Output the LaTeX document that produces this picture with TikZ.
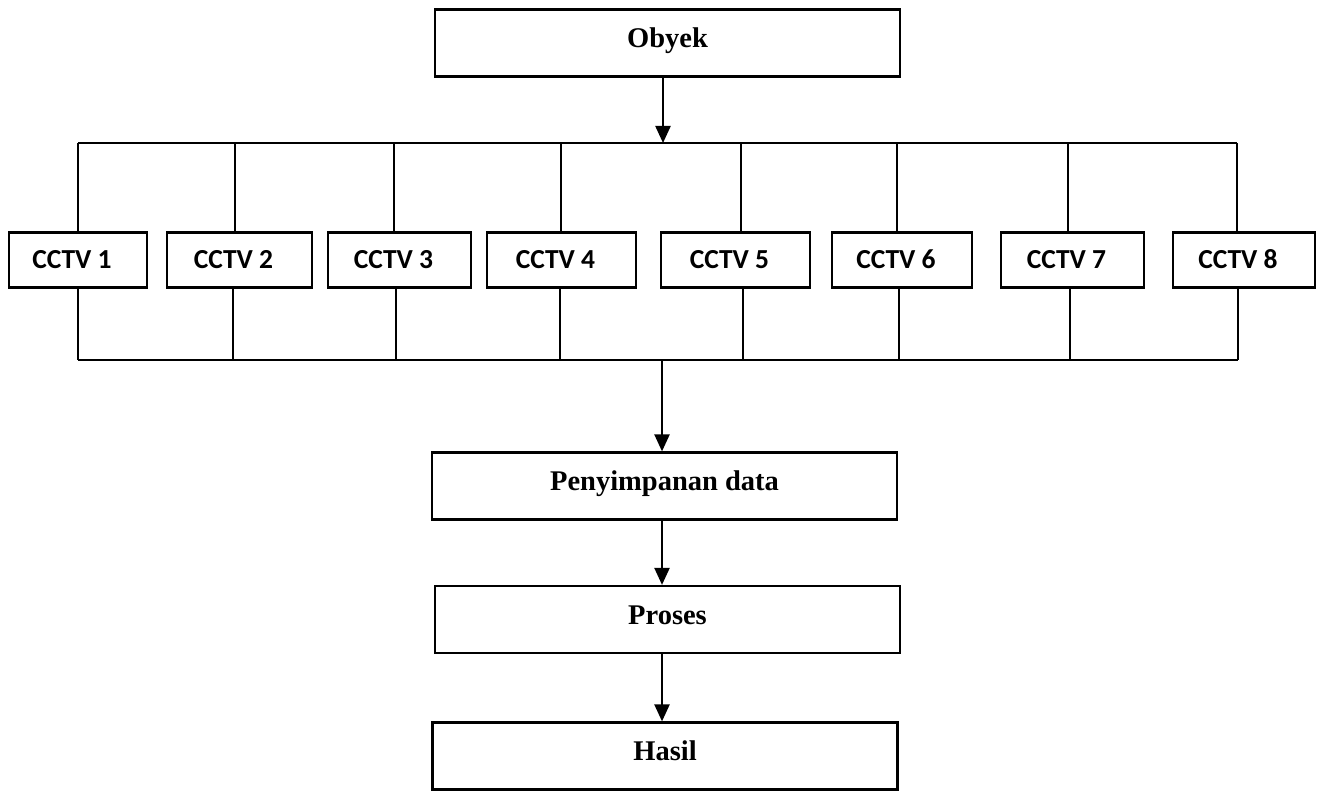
\documentclass[tikz,border=0pt]{standalone}
\usepackage{fontspec}
\setmainfont{Liberation Serif}
\newfontfamily\calfont{Carlito}
\usetikzlibrary{arrows.meta}
\begin{document}
\begin{tikzpicture}[x=1pt,y=-1pt,
  ln/.style={line width=2.2pt},
  arr/.style={ln,-{Triangle[width=15pt,length=17pt]}},
  bigbox/.style={draw,ln,minimum width=465pt,minimum height=67pt,inner sep=0pt,
    text height=15pt,text depth=6pt,
    font=\fontsize{28.5}{30}\selectfont\bfseries},
  cam/.style={draw,ln,minimum height=55pt,inner sep=0pt,
    text height=18pt,text depth=0pt,
    font=\calfont\fontsize{27.5}{29}\selectfont\bfseries}]
\useasboundingbox (0,0) rectangle (1321,791);
\node[bigbox] (obyek) at (667.5,43) {Obyek};
\node[bigbox] (pen) at (664.5,486) {Penyimpanan data};
\node[bigbox] (proses) at (667.5,619.5) {Proses};
\node[bigbox] (hasil) at (665,756) {Hasil};
\foreach \i/\l/\r in {1/9/147,2/167/312,3/328/471,4/487/636,5/661/810,6/832/972,7/1001/1144,8/1173/1315}
  \node[cam,minimum width={\r-\l}] (c\i) at ({(\l+\r)/2},260) {CCTV \i\kern12pt};
\foreach \i/\x in {1/78,2/235,3/394,4/561,5/741,6/897,7/1068,8/1237}{
  \coordinate (t\i) at (\x,143);
  \draw[ln] (t\i) -- (t\i |- c\i.north);
}
\foreach \i/\x in {1/78,2/233,3/396,4/560,5/743,6/899,7/1070,8/1238}{
  \coordinate (b\i) at (\x,360);
  \draw[ln] (b\i |- c\i.south) -- (b\i);
}
\draw[ln] (t1) -- (t8);
\draw[ln] (b1) -- (b8);
\coordinate (bt) at (663,143);
\coordinate (bb) at (662,360);
\draw[arr] (bt |- obyek.south) -- (bt);
\draw[arr] (bb) -- (bb |- pen.north);
\draw[arr] (bb |- pen.south) -- (bb |- proses.north);
\draw[arr] (bb |- proses.south) -- (bb |- hasil.north);
\end{tikzpicture}
\end{document}
